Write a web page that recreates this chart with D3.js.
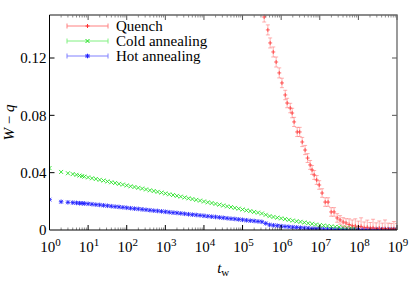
<!DOCTYPE html>
<html>
<head>
<meta charset="utf-8">
<script src="https://cdn.jsdelivr.net/npm/d3@7"></script>
<style>
  body { margin: 0; background: #fff; }
  svg { display: block; }
</style>
</head>
<body>
<div id="chart"></div>
<script>
// log10 of t_w for the annealing runs
const twExp = [0, 0.301, 0.477, 0.602, 0.699, 0.778, 0.845, 0.903,
  1.0, 1.1, 1.2, 1.3, 1.4, 1.5, 1.6, 1.7, 1.8, 1.9,
  2.0, 2.1, 2.2, 2.3, 2.4, 2.5, 2.6, 2.7, 2.8, 2.9,
  3.0, 3.1, 3.2, 3.3, 3.4, 3.5, 3.6, 3.7, 3.8, 3.9,
  4.0, 4.1, 4.2, 4.3, 4.4, 4.5, 4.6, 4.7, 4.8, 4.9,
  5.0, 5.1, 5.2, 5.3, 5.4, 5.5, 5.6, 5.7, 5.8, 5.9,
  6.0, 6.1, 6.2, 6.3, 6.4, 6.5, 6.6, 6.7, 6.8, 6.9,
  7.0, 7.1, 7.2, 7.3, 7.4, 7.5, 7.6, 7.7, 7.8, 7.9,
  8.0, 8.1, 8.2, 8.3, 8.4, 8.5, 8.6, 8.7, 8.8, 8.9, 9.0];

const coldVal = [0.0432, 0.0405, 0.0396, 0.0390, 0.0385, 0.0380, 0.0376, 0.0372,
  0.0367, 0.0361, 0.0356, 0.0350, 0.0345, 0.0339, 0.0333, 0.0328, 0.0322, 0.0317,
  0.0311, 0.0305, 0.0300, 0.0294, 0.0289, 0.0283, 0.0277, 0.0272, 0.0266, 0.0261,
  0.0255, 0.0249, 0.0244, 0.0238, 0.0233, 0.0227, 0.0221, 0.0216, 0.0210, 0.0205,
  0.0199, 0.0193, 0.0188, 0.0182, 0.0177, 0.0171, 0.0165, 0.0160, 0.0154, 0.0149,
  0.0143, 0.0137, 0.0132, 0.0126, 0.0121, 0.0115, 0.0106, 0.0097, 0.0091, 0.0086,
  0.0081, 0.0076, 0.0071, 0.0066, 0.0061, 0.0057, 0.0052, 0.0047, 0.0043, 0.0038,
  0.0034, 0.0031, 0.0028, 0.0025, 0.0022, 0.0020, 0.0018, 0.0016, 0.0014, 0.0012];

const hotVal = [0.0212, 0.0197, 0.0193, 0.0191, 0.0189, 0.0187, 0.0186, 0.0185,
  0.0183, 0.0180, 0.0177, 0.0175, 0.0172, 0.0169, 0.0166, 0.0163, 0.0161, 0.0158,
  0.0155, 0.0152, 0.0149, 0.0147, 0.0144, 0.0141, 0.0138, 0.0135, 0.0133, 0.0130,
  0.0127, 0.0124, 0.0121, 0.0119, 0.0116, 0.0113, 0.0110, 0.0107, 0.0105, 0.0102,
  0.0099, 0.0096, 0.0093, 0.0091, 0.0088, 0.0085, 0.0082, 0.0079, 0.0077, 0.0074,
  0.0071, 0.0068, 0.0065, 0.0063, 0.0060, 0.0057, 0.0046, 0.0036, 0.0033, 0.0030,
  0.0027, 0.0024, 0.0022, 0.0020, 0.0018, 0.0016, 0.0014, 0.0012, 0.0010, 0.0009,
  0.0008, 0.0007, 0.0006, 0.0005, 0.0004, 0.0004, 0.0003, 0.0003, 0.0003, 0.0003,
  0.0003, 0.0003, 0.0003, 0.0003, 0.0003, 0.0003, 0.0003, 0.0003, 0.0003, 0.0003, 0.0003];

// quench run: log10 t_w, W - q, error
const quenchExp = [5.56, 5.655, 5.715, 5.795, 5.87, 5.95, 6.02, 6.105, 6.155, 6.235,
  6.285, 6.335, 6.415, 6.48, 6.545, 6.62, 6.685, 6.75, 6.80, 6.855,
  6.92, 6.985, 7.06, 7.14, 7.215, 7.295, 7.37, 7.45, 7.525, 7.605,
  7.68, 7.76, 7.84, 7.92, 8.0, 8.07, 8.15, 8.23, 8.31, 8.38,
  8.46, 8.54, 8.62, 8.69, 8.77, 8.85, 8.92, 9.0];
const quenchVal = [0.1486, 0.1396, 0.1305, 0.1242, 0.1172, 0.1096, 0.1026, 0.0942, 0.0886, 0.0851,
  0.0816, 0.0754, 0.0684, 0.0684, 0.0614, 0.0558, 0.0502, 0.0454, 0.0419, 0.0384,
  0.0349, 0.0314, 0.0258, 0.0195, 0.0195, 0.0126, 0.0126, 0.0084, 0.0070, 0.0056,
  0.0049, 0.0038, 0.0030, 0.0028, 0.0022, 0.0025, 0.0016, 0.0019, 0.0012, 0.0015,
  0.0010, 0.0013, 0.0008, 0.0010, 0.0008, 0.0006, 0.0009, 0.0005];
const quenchErr = [0.0035, 0.0035, 0.0035, 0.0035, 0.0035, 0.0035, 0.0033, 0.0033, 0.0033, 0.0033,
  0.0033, 0.0032, 0.0032, 0.0032, 0.0032, 0.0032, 0.0031, 0.0031, 0.0031, 0.0031,
  0.0031, 0.0030, 0.0030, 0.0030, 0.0030, 0.0030, 0.0030, 0.0030, 0.0030, 0.0030,
  0.0030, 0.0040, 0.0040, 0.0050, 0.0040, 0.0060, 0.0040, 0.0050, 0.0040, 0.0060,
  0.0040, 0.0050, 0.0040, 0.0060, 0.0040, 0.0040, 0.0050, 0.0040];

const yTicks = [0, 0.04, 0.08, 0.12];
const xDecades = [0, 1, 2, 3, 4, 5, 6, 7, 8, 9];

const seriesNames = ["Quench", "Cold annealing", "Hot annealing"];

const W = 415, H = 291;
const margin = { top: 15, right: 18, bottom: 61, left: 49.5 };
const serif = "'Liberation Serif', 'Times New Roman', 'DejaVu Serif', serif";

const svg = d3.select("#chart").append("svg")
  .attr("width", W).attr("height", H)
  .attr("font-family", serif);
svg.append("rect").attr("width", W).attr("height", H).attr("fill", "#fff");

const x = d3.scaleLog().domain([1, 1e9]).range([margin.left, W - margin.right]);
const y = d3.scaleLinear().domain([0, 0.15]).range([H - margin.bottom, margin.top]);

svg.append("clipPath").attr("id", "clip")
  .append("rect")
  .attr("x", margin.left).attr("y", margin.top - 1)
  .attr("width", W - margin.right - margin.left)
  .attr("height", H - margin.bottom - margin.top + 1);

// marker shapes
function cross(cx, cy, r) {
  return `M${cx - r},${cy - r}L${cx + r},${cy + r}M${cx - r},${cy + r}L${cx + r},${cy - r}`;
}
function plus(cx, cy, r) {
  return `M${cx - r},${cy}L${cx + r},${cy}M${cx},${cy - r}L${cx},${cy + r}`;
}
function star(cx, cy, r) {
  return plus(cx, cy, r) + cross(cx, cy, r * 0.8);
}

const plotG = svg.append("g").attr("clip-path", "url(#clip)");

// Hot annealing (blue, asterisks)
const hot = hotVal.map((v, i) => ({ t: Math.pow(10, twExp[i]), v }));
plotG.append("path")
  .attr("d", hot.map(d => star(x(d.t), y(d.v), 2.3)).join(""))
  .attr("fill", "none").attr("stroke", "#2020ff").attr("stroke-width", 1)
  .attr("stroke-opacity", 0.85);

// Cold annealing (green, crosses)
const cold = coldVal.map((v, i) => ({ t: Math.pow(10, twExp[i]), v }));
plotG.append("path")
  .attr("d", cold.map(d => cross(x(d.t), y(d.v), 2)).join(""))
  .attr("fill", "none").attr("stroke", "#20e020").attr("stroke-width", 1)
  .attr("stroke-opacity", 0.85);

// Quench (red, plus with error bars)
const quench = quenchVal.map((v, i) => ({ t: Math.pow(10, quenchExp[i]), v, e: quenchErr[i] }));
plotG.append("path")
  .attr("d", quench.map(d => {
    const cx = x(d.t), y0 = y(d.v - d.e), y1 = y(d.v + d.e);
    return `M${cx},${y0}L${cx},${y1}M${cx - 2},${y0}L${cx + 2},${y0}M${cx - 2},${y1}L${cx + 2},${y1}`;
  }).join(""))
  .attr("fill", "none").attr("stroke", "#ff7070").attr("stroke-width", 1)
  .attr("stroke-opacity", 0.55);
plotG.append("path")
  .attr("d", quench.map(d => plus(x(d.t), y(d.v), 2)).join(""))
  .attr("fill", "none").attr("stroke", "#ff3030").attr("stroke-width", 1)
  .attr("stroke-opacity", 0.75);

// axes: ticks inward on all four sides
const x0 = margin.left, x1 = W - margin.right, yb = H - margin.bottom, yt = margin.top;
const minorT = [];
xDecades.slice(0, -1).forEach(k => [2, 3, 4, 5, 6, 7, 8, 9].forEach(m => minorT.push(Math.pow(10, k) * m)));

const axisG = svg.append("g").attr("stroke", "#000").attr("stroke-width", 1).attr("fill", "none");
xDecades.forEach(k => {
  const px = x(Math.pow(10, k));
  axisG.append("line").attr("x1", px).attr("x2", px).attr("y1", yb).attr("y2", yb - 5);
  axisG.append("line").attr("x1", px).attr("x2", px).attr("y1", yt).attr("y2", yt + 5).attr("stroke", "#555");
});
minorT.forEach(t => {
  const px = x(t);
  axisG.append("line").attr("x1", px).attr("x2", px).attr("y1", yb).attr("y2", yb - 2.5).attr("stroke-opacity", 0.45);
  axisG.append("line").attr("x1", px).attr("x2", px).attr("y1", yt).attr("y2", yt + 2.5).attr("stroke-opacity", 0.45);
});
yTicks.slice(1).forEach(v => {
  const py = y(v);
  axisG.append("line").attr("x1", x0).attr("x2", x0 + 5).attr("y1", py).attr("y2", py);
  axisG.append("line").attr("x1", x1).attr("x2", x1 - 5).attr("y1", py).attr("y2", py).attr("stroke", "#555");
});
axisG.append("path").attr("d", `M${x0},${yt}L${x1},${yt}L${x1},${yb}`).attr("stroke", "#666").attr("stroke-width", 1.3);
axisG.append("path").attr("d", `M${x0},${yt}L${x0},${yb}L${x1},${yb}`).attr("stroke", "#000");

// tick labels
const fmtY = d => d === 0 ? "0" : d3.format(".2f")(d);
svg.selectAll(".ylab").data(yTicks).enter().append("text")
  .attr("class", "ylab")
  .attr("x", x0 - 3).attr("y", d => y(d)).attr("dy", "0.35em")
  .attr("text-anchor", "end").attr("font-size", 15)
  .text(fmtY);

const xl = svg.selectAll(".xlab").data(xDecades).enter().append("text")
  .attr("class", "xlab")
  .attr("x", d => x(Math.pow(10, d)) + 1).attr("y", yb + 22)
  .attr("text-anchor", "middle").attr("font-size", 15);
xl.append("tspan").text("10");
xl.append("tspan").attr("dy", "-6").attr("font-size", 11).text(d => d);

// axis titles
const xt = svg.append("text")
  .attr("x", (x0 + x1) / 2).attr("y", yb + 43)
  .attr("text-anchor", "middle").attr("font-size", 15);
xt.append("tspan").attr("font-style", "italic").text("t");
xt.append("tspan").attr("dy", "3").attr("font-size", 11).text("w");

const yt2 = svg.append("text")
  .attr("transform", `translate(14,${(yt + yb) / 2}) rotate(-90)`)
  .attr("text-anchor", "middle").attr("font-size", 15);
yt2.append("tspan").attr("font-style", "italic").text("W");
yt2.append("tspan").text(" \u2212 ");
yt2.append("tspan").attr("font-style", "italic").text("q");

// legend
const legColors = [["#ff8080", "#ff3030"], ["#80f080", "#20e020"], ["#8080ff", "#2020ff"]];
const legG = svg.append("g");
seriesNames.forEach((name, i) => {
  const ly = 26 + i * 15;
  const g = legG.append("g");
  g.append("path")
    .attr("d", `M67,${ly}L108,${ly}M67,${ly - 2.5}L67,${ly + 2.5}M108,${ly - 2.5}L108,${ly + 2.5}`)
    .attr("stroke", legColors[i][0]).attr("stroke-width", 1).attr("fill", "none");
  const mk = i === 0 ? plus(87.5, ly, 2) : i === 1 ? cross(87.5, ly, 2) : star(87.5, ly, 2.3);
  g.append("path").attr("d", mk).attr("stroke", legColors[i][1]).attr("fill", "none");
  g.append("text").attr("x", 116).attr("y", ly + 5).attr("font-size", 15).text(name);
});
</script>
</body>
</html>
